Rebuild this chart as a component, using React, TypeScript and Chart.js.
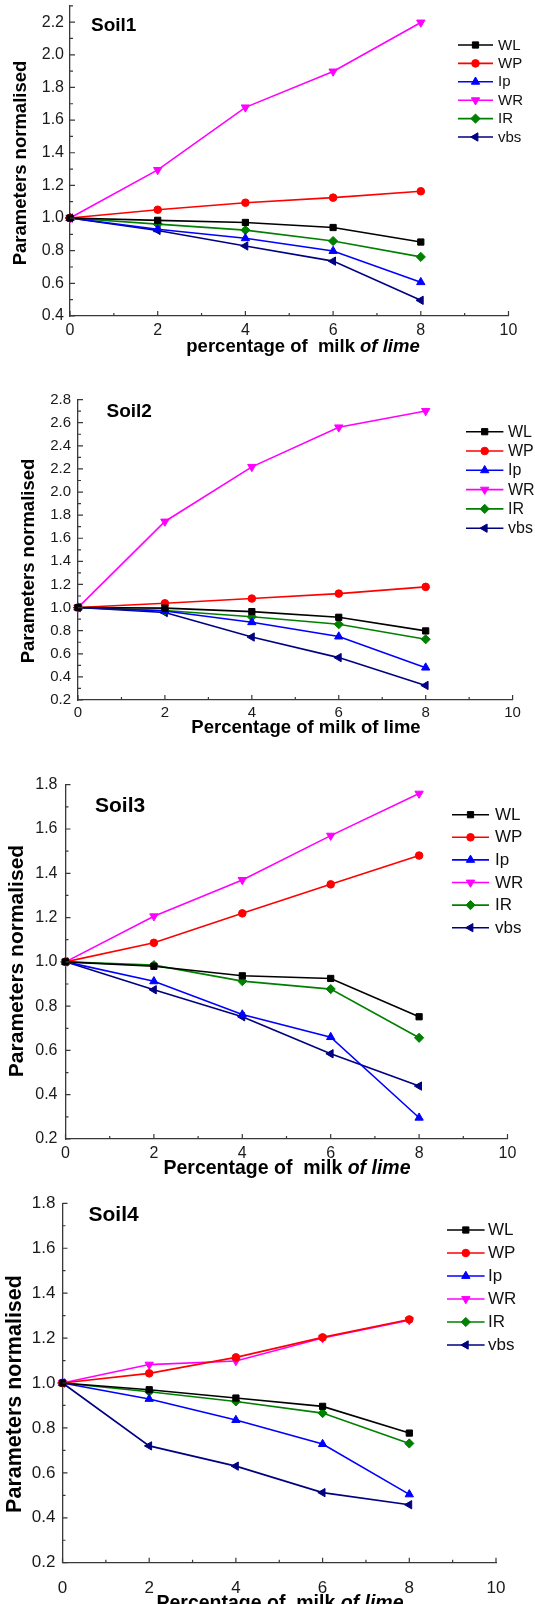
import React, { useEffect, useRef } from 'react';
import { Chart, registerables } from 'chart.js';

Chart.register(...registerables);

// ---------------- data ----------------
const X_VALUES = [0, 2, 4, 6, 8];
const X_TICKS = [0, 2, 4, 6, 8, 10];
const SERIES_NAMES = ['WL', 'WP', 'Ip', 'WR', 'IR', 'vbs'];

const SOIL1_WL = [1.0, 0.986, 0.973, 0.942, 0.853];
const SOIL1_WP = [1.0, 1.051, 1.094, 1.125, 1.164];
const SOIL1_IP = [1.0, 0.931, 0.876, 0.798, 0.607];
const SOIL1_WR = [1.0, 1.295, 1.678, 1.898, 2.198];
const SOIL1_IR = [1.0, 0.963, 0.926, 0.859, 0.762];
const SOIL1_VBS = [1.0, 0.924, 0.829, 0.736, 0.496];

const SOIL2_WL = [1.0, 0.995, 0.965, 0.916, 0.798];
const SOIL2_WP = [1.0, 1.037, 1.078, 1.121, 1.179];
const SOIL2_IP = [1.0, 0.97, 0.873, 0.749, 0.48];
const SOIL2_WR = [1.0, 1.745, 2.218, 2.56, 2.702];
const SOIL2_IR = [1.0, 0.974, 0.92, 0.856, 0.726];
const SOIL2_VBS = [1.0, 0.957, 0.745, 0.567, 0.326];

const SOIL3_WL = [1.0, 0.98, 0.937, 0.925, 0.752];
const SOIL3_WP = [1.0, 1.086, 1.219, 1.35, 1.48];
const SOIL3_IP = [1.0, 0.912, 0.762, 0.66, 0.296];
const SOIL3_WR = [1.0, 1.206, 1.37, 1.57, 1.76];
const SOIL3_IR = [1.0, 0.985, 0.913, 0.877, 0.657];
const SOIL3_VBS = [1.0, 0.874, 0.752, 0.585, 0.439];

const SOIL4_WL = [1.0, 0.97, 0.933, 0.896, 0.777];
const SOIL4_WP = [1.0, 1.043, 1.114, 1.203, 1.283];
const SOIL4_IP = [1.0, 0.929, 0.835, 0.728, 0.504];
const SOIL4_WR = [1.0, 1.082, 1.098, 1.2, 1.28];
const SOIL4_IR = [1.0, 0.961, 0.918, 0.866, 0.731];
const SOIL4_VBS = [1.0, 0.72, 0.63, 0.512, 0.458];

const Y_TICKS_1 = [0.4, 0.6, 0.8, 1.0, 1.2, 1.4, 1.6, 1.8, 2.0, 2.2];
const Y_TICKS_2 = [0.2, 0.4, 0.6, 0.8, 1.0, 1.2, 1.4, 1.6, 1.8, 2.0, 2.2, 2.4, 2.6, 2.8];
const Y_TICKS_3 = [0.2, 0.4, 0.6, 0.8, 1.0, 1.2, 1.4, 1.6, 1.8];
const Y_TICKS_4 = [0.2, 0.4, 0.6, 0.8, 1.0, 1.2, 1.4, 1.6, 1.8];

const SOIL_TITLES = ['Soil1', 'Soil2', 'Soil3', 'Soil4'];
const Y_TITLE = 'Parameters normalised';
const X_TITLE_1 = [{ t: 'percentage of  milk ', i: false }, { t: 'of lime', i: true }];
const X_TITLE_2 = [{ t: 'Percentage of milk of lime', i: false }];
const X_TITLE_3 = [{ t: 'Percentage of  milk ', i: false }, { t: 'of lime', i: true }];
const X_TITLE_4 = [{ t: 'Percentage of  milk ', i: false }, { t: 'of lime', i: true }];

// ---------------- styles ----------------
const FONT = '"Liberation Sans", Arial, Helvetica, sans-serif';
const AXIS_COLOR = '#383838';
const SERIES_STYLE = [
  { color: '#000000', point: 'rect', rot: 0, r: 4.4 },
  { color: '#ff0000', point: 'circle', rot: 0, r: 3.8 },
  { color: '#0000ff', point: 'triangle', rot: 0, r: 4.8 },
  { color: '#ff00ff', point: 'triangle', rot: 180, r: 4.8 },
  { color: '#008000', point: 'rectRot', rot: 0, r: 4.6 },
  { color: '#000080', point: 'triangle', rot: -90, r: 4.8 },
];

const SPECS = [
  {
    T: 0, H: 370, left: 70, right: 508.5, top: 5.3, bottom: 316,
    yMin: 0.4, yMax: 2.3, yTicks: Y_TICKS_1, tickFont: 16, tickPadX: 5.4, tickPadY: 6,
    values: [SOIL1_WL, SOIL1_WP, SOIL1_IP, SOIL1_WR, SOIL1_IR, SOIL1_VBS],
    title: SOIL_TITLES[0], titleX: 91, titleY: 26, titleFont: 19,
    xTitle: X_TITLE_1, xTitleX: 303, xTitleY: 347, xTitleFont: 18.5,
    yTitleX: 20.5, yTitleY: 163, yTitleFont: 18.5,
    leg: { x1: 458, x2: 493, xt: 498, y0: 45, dy: 18.4, font: 15 },
  },
  {
    T: 385, H: 360, left: 78, right: 512.6, top: 399.6, bottom: 700,
    yMin: 0.2, yMax: 2.8, yTicks: Y_TICKS_2, tickFont: 15, tickPadX: 4.3, tickPadY: 7,
    values: [SOIL2_WL, SOIL2_WP, SOIL2_IP, SOIL2_WR, SOIL2_IR, SOIL2_VBS],
    title: SOIL_TITLES[1], titleX: 106.5, titleY: 411.7, titleFont: 19,
    xTitle: X_TITLE_2, xTitleX: 306, xTitleY: 728.3, xTitleFont: 18.5,
    yTitleX: 29, yTitleY: 561, yTitleFont: 18.5,
    leg: { x1: 466, x2: 503.4, xt: 508, y0: 431.7, dy: 19.3, font: 16 },
  },
  {
    T: 770, H: 415, left: 65.5, right: 507.5, top: 784.7, bottom: 1139,
    yMin: 0.2, yMax: 1.8, yTicks: Y_TICKS_3, tickFont: 16, tickPadX: 5.4, tickPadY: 8,
    values: [SOIL3_WL, SOIL3_WP, SOIL3_IP, SOIL3_WR, SOIL3_IR, SOIL3_VBS],
    title: SOIL_TITLES[2], titleX: 95, titleY: 806.7, titleFont: 21,
    xTitle: X_TITLE_3, xTitleX: 287, xTitleY: 1168.3, xTitleFont: 19.5,
    yTitleX: 17, yTitleY: 961, yTitleFont: 21,
    leg: { x1: 452, x2: 489, xt: 495, y0: 814.7, dy: 22.6, font: 17 },
  },
  {
    T: 1185, H: 419, left: 62.5, right: 496, top: 1203.3, bottom: 1562.7,
    yMin: 0.2, yMax: 1.8, yTicks: Y_TICKS_4, tickFont: 17, tickPadX: 15, tickPadY: 7,
    values: [SOIL4_WL, SOIL4_WP, SOIL4_IP, SOIL4_WR, SOIL4_IR, SOIL4_VBS],
    title: SOIL_TITLES[3], titleX: 88.5, titleY: 1215, titleFont: 21,
    xTitle: X_TITLE_4, xTitleX: 280, xTitleY: 1604, xTitleFont: 19.5,
    yTitleX: 15.4, yTitleY: 1394, yTitleFont: 21.5,
    leg: { x1: 447, x2: 484.6, xt: 488, y0: 1230, dy: 23, font: 17 },
  },
];

// marker drawing for the legend (same geometry as Chart.js)
function drawMarker(ctx: CanvasRenderingContext2D, style: string, x: number, y: number, r: number, rotDeg: number) {
  let rad = (rotDeg * Math.PI) / 180;
  ctx.beginPath();
  if (style === 'circle') {
    ctx.arc(x, y, r, 0, Math.PI * 2);
  } else if (style === 'rect') {
    const s = Math.SQRT1_2 * r;
    ctx.rect(x - s, y - s, 2 * s, 2 * s);
  } else if (style === 'rectRot') {
    ctx.moveTo(x, y - r);
    ctx.lineTo(x + r, y);
    ctx.lineTo(x, y + r);
    ctx.lineTo(x - r, y);
  } else if (style === 'triangle') {
    ctx.moveTo(x + Math.sin(rad) * r, y - Math.cos(rad) * r);
    rad += (2 * Math.PI) / 3;
    ctx.lineTo(x + Math.sin(rad) * r, y - Math.cos(rad) * r);
    rad += (2 * Math.PI) / 3;
    ctx.lineTo(x + Math.sin(rad) * r, y - Math.cos(rad) * r);
  }
  ctx.closePath();
  ctx.fill();
  ctx.stroke();
}

function makeDecorPlugin(spec: any) {
  return {
    id: 'decor',
    afterDraw(chart: any) {
      const ctx: CanvasRenderingContext2D = chart.ctx;
      const xs = chart.scales.x;
      const ys = chart.scales.y;
      const area = chart.chartArea;
      ctx.save();
      // inward tick marks
      ctx.strokeStyle = AXIS_COLOR;
      ctx.lineWidth = 1.2;
      ctx.beginPath();
      for (let v = 0; v <= 10; v++) {
        const px = xs.getPixelForValue(v);
        const len = v % 2 === 0 ? 5 : 3;
        ctx.moveTo(px, area.bottom);
        ctx.lineTo(px, area.bottom - len);
      }
      const nSteps = Math.round((spec.yMax - spec.yMin) / 0.1);
      for (let k = 0; k <= nSteps; k++) {
        const v = spec.yMin + k * 0.1;
        const py = ys.getPixelForValue(v);
        const len = k % 2 === 0 ? 5 : 3;
        ctx.moveTo(area.left, py);
        ctx.lineTo(area.left + len, py);
      }
      ctx.stroke();

      ctx.fillStyle = '#000';
      ctx.textBaseline = 'middle';
      // soil title
      ctx.font = `bold ${spec.titleFont}px ${FONT}`;
      ctx.textAlign = 'left';
      ctx.fillText(spec.title, spec.titleX, spec.titleY - spec.T);

      // x title with mixed italics
      const segs = spec.xTitle;
      const fontFor = (it: boolean) => `${it ? 'italic ' : ''}bold ${spec.xTitleFont}px ${FONT}`;
      let total = 0;
      const widths: number[] = [];
      for (const s of segs) {
        ctx.font = fontFor(s.i);
        const w = ctx.measureText(s.t).width;
        widths.push(w);
        total += w;
      }
      let cx = spec.xTitleX - total / 2;
      segs.forEach((s: any, i: number) => {
        ctx.font = fontFor(s.i);
        ctx.fillText(s.t, cx, spec.xTitleY - spec.T);
        cx += widths[i];
      });

      // y title
      ctx.save();
      ctx.translate(spec.yTitleX, spec.yTitleY - spec.T);
      ctx.rotate(-Math.PI / 2);
      ctx.textAlign = 'center';
      ctx.font = `bold ${spec.yTitleFont}px ${FONT}`;
      ctx.fillText(Y_TITLE, 0, 0);
      ctx.restore();

      // legend
      const lg = spec.leg;
      SERIES_NAMES.forEach((name, i) => {
        const st = SERIES_STYLE[i];
        const y = lg.y0 + i * lg.dy - spec.T;
        ctx.strokeStyle = st.color;
        ctx.fillStyle = st.color;
        ctx.lineWidth = 1.6;
        ctx.beginPath();
        ctx.moveTo(lg.x1, y);
        ctx.lineTo(lg.x2, y);
        ctx.stroke();
        ctx.lineWidth = 1;
        drawMarker(ctx, st.point, (lg.x1 + lg.x2) / 2, y, st.r, st.rot);
        ctx.fillStyle = '#111';
        ctx.textAlign = 'left';
        ctx.font = `${lg.font}px ${FONT}`;
        ctx.fillText(name, lg.xt, y + 0.5);
      });
      ctx.restore();
    },
  };
}

function makeConfig(spec: any): any {
  return {
    type: 'line',
    data: {
      datasets: SERIES_NAMES.map((name, i) => {
        const st = SERIES_STYLE[i];
        return {
          label: name,
          data: X_VALUES.map((x, j) => ({ x, y: spec.values[i][j] })),
          borderColor: st.color,
          backgroundColor: st.color,
          borderWidth: 1.6,
          pointStyle: st.point,
          pointRotation: st.rot,
          pointRadius: st.r,
          pointBorderWidth: 1,
          pointBackgroundColor: st.color,
          pointBorderColor: st.color,
          tension: 0,
          clip: false,
        };
      }),
    },
    options: {
      responsive: false,
      animation: false,
      devicePixelRatio: 1,
      events: [],
      layout: { padding: { left: 0, right: 535 - spec.right, top: spec.top - spec.T, bottom: 0 } },
      plugins: { legend: { display: false }, tooltip: { enabled: false }, title: { display: false } },
      scales: {
        x: {
          type: 'linear',
          min: 0,
          max: 10,
          afterBuildTicks: (s: any) => { s.ticks = X_TICKS.map((v) => ({ value: v })); },
          ticks: {
            autoSkip: false,
            maxRotation: 0,
            minRotation: 0,
            padding: spec.tickPadX,
            color: '#1a1a1a',
            font: { family: FONT, size: spec.tickFont },
            callback: (v: any) => String(v),
          },
          grid: { display: false, drawTicks: false, tickLength: 0 },
          border: { display: true, color: AXIS_COLOR, width: 1.3 },
          afterFit: (s: any) => {
            s.height = spec.T + spec.H - spec.bottom;
            s.paddingLeft = 0;
            s.paddingRight = 0;
          },
        },
        y: {
          type: 'linear',
          min: spec.yMin,
          max: spec.yMax,
          afterBuildTicks: (s: any) => { s.ticks = spec.yTicks.map((v: number) => ({ value: v })); },
          ticks: {
            autoSkip: false,
            padding: spec.tickPadY,
            color: '#1a1a1a',
            font: { family: FONT, size: spec.tickFont },
            callback: (v: any) => Number(v).toFixed(1),
          },
          grid: { display: false, drawTicks: false, tickLength: 0 },
          border: { display: true, color: AXIS_COLOR, width: 1.3 },
          afterFit: (s: any) => {
            s.width = spec.left;
            s.paddingTop = 0;
            s.paddingBottom = 0;
          },
        },
      },
    },
    plugins: [makeDecorPlugin(spec)],
  };
}

function SoilChart({ spec }: { spec: any }) {
  const ref = useRef<HTMLCanvasElement>(null);
  useEffect(() => {
    const chart = new Chart(ref.current as HTMLCanvasElement, makeConfig(spec));
    return () => chart.destroy();
  }, [spec]);
  return (
    <canvas
      ref={ref}
      width={535}
      height={spec.H}
      style={{ position: 'absolute', left: 0, top: spec.T, width: 535, height: spec.H, display: 'block' }}
    />
  );
}

export default function App() {
  return (
    <div style={{ position: 'absolute', left: 0, top: 0, width: 535, height: 1604, background: '#fff', overflow: 'hidden' }}>
      {SPECS.map((s, i) => (
        <SoilChart key={i} spec={s} />
      ))}
    </div>
  );
}
